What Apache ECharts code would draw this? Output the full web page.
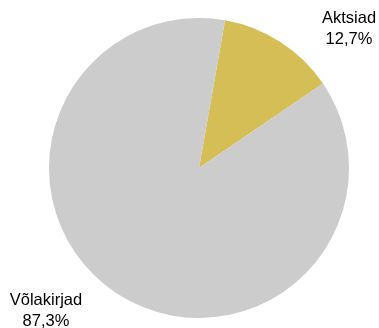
<!DOCTYPE html>
<html>
<head>
<meta charset="utf-8">
<script src="https://cdn.jsdelivr.net/npm/echarts@6/dist/echarts.min.js"></script>
<style>
  html, body { margin: 0; padding: 0; background: #fff; }
  #chart { width: 379px; height: 328px; }
</style>
</head>
<body>
<div id="chart"></div>
<script>
var categories = ['Aktsiad', 'Võlakirjad']
var shares = [12.7, 87.3]
var sliceColors = ['#d4be55', '#cccccc']

// label spots, matched by hand to the reference
var labelSpots = [[349, 29], [46, 311]]

var myChart = echarts.init(document.getElementById('chart'))
var option = {
  animation: false,
  series: [
    {
      type: 'pie',
      center: [199, 168],
      radius: 150,
      startAngle: 80,
      clockwise: true,
      silent: true,
      itemStyle: {
        borderWidth: 0
      },
      label: {
        show: true,
        position: 'outside',
        overflow: 'none',
        color: '#000',
        fontFamily: 'Liberation Sans, Arial, sans-serif',
        fontSize: 16.5,
        lineHeight: 21,
        align: 'center',
        formatter: function (p) {
          return p.name + '\n' + p.value.toFixed(1).replace('.', ',') + '%'
        }
      },
      labelLine: { show: false },
      labelLayout: function (params) {
        var spot = labelSpots[params.dataIndex]
        return {
          x: spot[0],
          y: spot[1],
          align: 'center',
          verticalAlign: 'middle',
          width: 120
        }
      },
      data: categories.map(function (name, i) {
        return { name: name, value: shares[i], itemStyle: { color: sliceColors[i] } }
      })
    }
  ]
}
myChart.setOption(option)
</script>
</body>
</html>
